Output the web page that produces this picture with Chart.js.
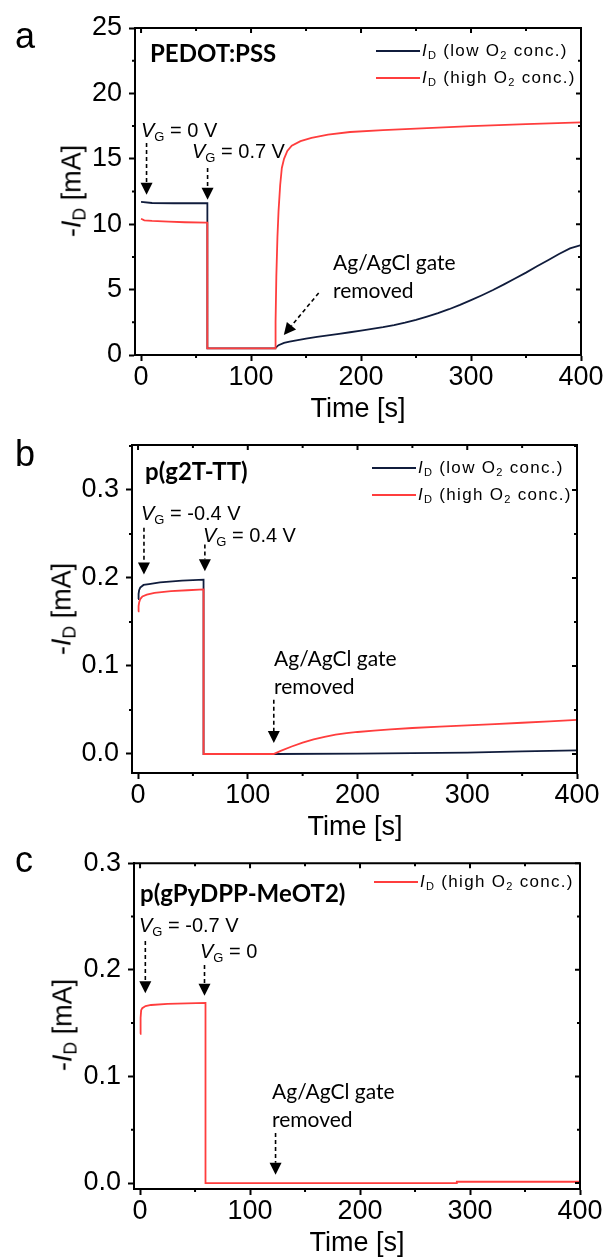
<!DOCTYPE html>
<html>
<head>
<meta charset="utf-8">
<script src="https://cdn.jsdelivr.net/npm/chart.js@4.4.0/dist/chart.umd.min.js"></script>
<style>
    body{margin:0;background:#fff;}
    #lienzo{position:relative;width:605px;height:1257px;overflow:hidden;background:#fff;}
    .panel{position:absolute;left:0;}
    .t{position:absolute;white-space:nowrap;line-height:1;color:#000;}
    .arial{font-family:'Liberation Sans',Arial,sans-serif;}
    .cal{font-family:Lato,'Open Sans',sans-serif;}
    .negrita{font-weight:bold;}
    .ley{letter-spacing:1.3px;}
    sub{font-size:0.65em;vertical-align:-0.28em;line-height:0;}
    .linea{position:absolute;height:2px;}
</style>
</head>
<body>
<div id="lienzo">
    <div class="panel" style="top:0px"><canvas id="graficoA" width="605" height="420"></canvas></div>
    <div class="panel" style="top:420px"><canvas id="graficoB" width="605" height="420"></canvas></div>
    <div class="panel" style="top:840px"><canvas id="graficoC" width="605" height="417"></canvas></div>
</div>
<script>
// ---- datos ----
const xTicks = [0, 100, 200, 300, 400];
const aYTicks = [0, 5, 10, 15, 20, 25];
const bYTicks = [0.0, 0.1, 0.2, 0.3];
const cYTicks = [0.0, 0.1, 0.2, 0.3];

// panel a: PEDOT:PSS, -ID [mA]
const aLowX  = [0, 10, 30, 59.5, 60.3, 60.3, 90, 121.8, 122, 125, 130, 135, 140, 150, 160, 170, 180, 190, 200, 210, 220, 230, 240, 250, 260, 270, 280, 290, 300, 310, 320, 330, 340, 350, 360, 370, 380, 390, 400];
const aLowY  = [11.7, 11.62, 11.6, 11.6, 11.6, 0.5, 0.5, 0.5, 0.52, 0.75, 0.92, 1.02, 1.1, 1.25, 1.38, 1.5, 1.62, 1.74, 1.86, 1.99, 2.13, 2.29, 2.47, 2.68, 2.93, 3.2, 3.5, 3.83, 4.19, 4.57, 4.97, 5.4, 5.85, 6.3, 6.78, 7.25, 7.72, 8.15, 8.4];
const aHighX = [0, 3, 10, 25, 40, 59.5, 60.3, 60.3, 90, 121.8, 122.3, 123, 124, 125, 126.5, 128, 130, 133, 137, 145, 155, 170, 190, 220, 260, 300, 350, 400];
const aHighY = [10.42, 10.3, 10.25, 10.2, 10.15, 10.12, 10.12, 0.5, 0.5, 0.5, 2.5, 6, 9, 11, 13, 14.3, 15.0, 15.6, 16.0, 16.35, 16.6, 16.85, 17.05, 17.2, 17.35, 17.5, 17.65, 17.78];

// panel b: p(g2T-TT)
const bLowX  = [0, 0.5, 1, 2, 5, 10, 20, 40, 59.7, 59.7, 125, 200, 250, 300, 350, 400];
const bLowY  = [0.176, 0.182, 0.186, 0.189, 0.192, 0.193, 0.195, 0.197, 0.198, 0, 0, 0.0005, 0.001, 0.0015, 0.003, 0.004];
const bHighX = [0, 0.5, 1, 2, 4, 8, 15, 30, 45, 59.7, 59.7, 123.5, 130, 140, 150, 160, 170, 180, 190, 200, 215, 230, 250, 275, 300, 325, 350, 375, 400];
const bHighY = [0.162, 0.168, 0.172, 0.176, 0.179, 0.181, 0.183, 0.185, 0.186, 0.187, 0, 0, 0.0035, 0.0085, 0.013, 0.0165, 0.0195, 0.022, 0.0237, 0.025, 0.0265, 0.028, 0.0295, 0.031, 0.0325, 0.034, 0.0355, 0.037, 0.0388];

// panel c: p(gPyDPP-MeOT2)
const cHighX = [0, 0.5, 1, 2, 5, 10, 25, 59.5, 59.5, 288, 288, 400];
const cHighY = [0.14, 0.155, 0.162, 0.164, 0.166, 0.167, 0.168, 0.169, 0, 0, 0.0012, 0.0012];

const colorLow = '#101c3c';
const colorHigh = '#ff3d3d';

/*
    Plugin: marco
    Funcion: borde superior/derecho, ticks menores y espejados, flechas punteadas
*/
const marco = {
    id: 'marco',
    afterDraw(chart, args, opts) {
        let ctx = chart.ctx;
        let {left, right, top, bottom} = chart.chartArea;
        let x = chart.scales.x, y = chart.scales.y;
        ctx.save();
        ctx.strokeStyle = '#000';
        ctx.lineWidth = 2;
        ctx.beginPath();
        ctx.moveTo(left - 1, top);
        ctx.lineTo(right, top);
        ctx.lineTo(right, bottom + 1);
        ctx.stroke();

        ctx.beginPath();
        xTicks.forEach(v => {
            let px = x.getPixelForValue(v);
            ctx.moveTo(px, top); ctx.lineTo(px, top + 5);
            if (v + 50 <= 400) {
                let pm = x.getPixelForValue(v + 50);
                ctx.moveTo(pm, top); ctx.lineTo(pm, top + 3);
                ctx.moveTo(pm, bottom); ctx.lineTo(pm, bottom + 3);
            }
        });
        opts.yTicks.forEach(v => {
            let py = y.getPixelForValue(v);
            ctx.moveTo(right, py); ctx.lineTo(right - 5, py);
            let vm = v + opts.yMinor;
            if (vm < y.max) {
                let pm = y.getPixelForValue(vm);
                ctx.moveTo(right, pm); ctx.lineTo(right - 3, pm);
                ctx.moveTo(left, pm); ctx.lineTo(left - 3, pm);
            }
        });
        ctx.stroke();

        // flechas
        opts.flechas.forEach(f => {
            let x1 = x.getPixelForValue(f.x1), y1 = y.getPixelForValue(f.y1);
            let x2 = x.getPixelForValue(f.x2), y2 = y.getPixelForValue(f.y2);
            let ang = Math.atan2(y2 - y1, x2 - x1);
            let largo = 12, ancho = 6;
            let bx = x2 - largo * Math.cos(ang), by = y2 - largo * Math.sin(ang);
            ctx.lineWidth = 1.6;
            ctx.setLineDash([4, 3]);
            ctx.beginPath();
            ctx.moveTo(x1, y1);
            ctx.lineTo(bx, by);
            ctx.stroke();
            ctx.setLineDash([]);
            ctx.fillStyle = '#000';
            ctx.beginPath();
            ctx.moveTo(x2, y2);
            ctx.lineTo(bx + ancho * Math.sin(ang), by - ancho * Math.cos(ang));
            ctx.lineTo(bx - ancho * Math.sin(ang), by + ancho * Math.cos(ang));
            ctx.closePath();
            ctx.fill();
        });
        ctx.restore();
    }
};

/*
    Funcion: crear un panel con sus series y ejes
*/
function crearPanel(idCanvas, series, yMin, yMax, yTicks, yDec, yMinor, area, flechas) {
    let canvas = document.getElementById(idCanvas);
    let ejeComun = {
        grid: {drawOnChartArea: false, color: '#000', tickColor: '#000', tickLength: 6, tickWidth: 2},
        border: {color: '#000', width: 2}
    };
    return new Chart(canvas, {
        type: 'line',
        data: {
            datasets: series.map(s => ({
                data: s.x.map((v, i) => ({x: v, y: s.y[i]})),
                borderColor: s.color,
                borderWidth: 1.8,
                pointRadius: 0,
                tension: 0,
                fill: false
            }))
        },
        options: {
            responsive: false,
            animation: false,
            events: [],
            layout: {padding: {left: 0, top: area.top, right: area.right, bottom: 0}},
            plugins: {
                legend: {display: false},
                tooltip: {enabled: false},
                marco: {flechas: flechas, yTicks: yTicks, yMinor: yMinor}
            },
            scales: {
                x: Object.assign({}, ejeComun, {
                    type: 'linear', min: -5.5, max: 400,
                    afterBuildTicks: s => { s.ticks = xTicks.map(v => ({value: v})); },
                    afterFit: s => { s.height = area.xh; },
                    ticks: {font: {size: 27, family: "'Liberation Sans', Arial, sans-serif"}, color: '#000', padding: 0, maxRotation: 0, autoSkip: false}
                }),
                y: Object.assign({}, ejeComun, {
                    type: 'linear', min: yMin, max: yMax,
                    afterBuildTicks: s => { s.ticks = yTicks.map(v => ({value: v})); },
                    afterFit: s => { s.width = area.left; },
                    ticks: {font: {size: 27, family: "'Liberation Sans', Arial, sans-serif"}, color: '#000', padding: 7, autoSkip: false,
                        callback: v => v.toFixed(yDec)}
                })
            }
        },
        plugins: [marco]
    });
}

crearPanel('graficoA', [
    {x: aHighX, y: aHighY, color: colorHigh},
    {x: aLowX, y: aLowY, color: colorLow}
], 0, 25, aYTicks, 0, 2.5, {left: 135, top: 28, right: 24, xh: 65}, [
    {x1: 5, y1: 16.2, x2: 5, y2: 12.25},
    {x1: 60.5, y1: 14.3, x2: 60.5, y2: 11.86},
    {x1: 161.5, y1: 4.74, x2: 129.8, y2: 1.53}
]);

crearPanel('graficoB', [
    {x: bHighX, y: bHighY, color: colorHigh},
    {x: bLowX, y: bLowY, color: colorLow}
], -0.0216, 0.351, bYTicks, 1, 0.05, {left: 132, top: 25, right: 28, xh: 67}, [
    {x1: 5.4, y1: 0.257, x2: 5.4, y2: 0.204},
    {x1: 60.9, y1: 0.238, x2: 60.9, y2: 0.2075},
    {x1: 123.7, y1: 0.0617, x2: 123.7, y2: 0.0125}
]);

crearPanel('graficoC', [
    {x: cHighX, y: cHighY, color: colorHigh}
], -0.0056, 0.3, cYTicks, 1, 0.05, {left: 134, top: 22, right: 25, xh: 68}, [
    {x1: 4.8, y1: 0.227, x2: 4.8, y2: 0.178},
    {x1: 58.6, y1: 0.2046, x2: 58.6, y2: 0.1757},
    {x1: 123.2, y1: 0.047, x2: 123.2, y2: 0.0077}
]);

// ---- textos (html encima de los canvas) ----
let lienzo = document.getElementById('lienzo');

function ponerTexto(html, x, base, size, clase) {
    let d = document.createElement('div');
    d.className = 't ' + clase;
    d.style.fontSize = size + 'px';
    d.style.left = x + 'px';
    let k = clase.indexOf('cal') >= 0 ? 0.887 : 0.8465;
    d.style.top = (base - k * size) + 'px';
    d.innerHTML = html;
    lienzo.appendChild(d);
    return d;
}

function tituloY(cx, cy) {
    let d = document.createElement('div');
    d.className = 't arial';
    d.style.fontSize = '27px';
    d.style.left = cx + 'px';
    d.style.top = cy + 'px';
    d.style.transform = 'translate(-50%,-50%) rotate(-90deg)';
    d.innerHTML = '-<i>I</i><sub>D</sub> [mA]';
    lienzo.appendChild(d);
}

function tituloX(cx, base) {
    let d = ponerTexto('Time [s]', cx, base, 27, 'arial');
    d.style.transform = 'translateX(-50%)';
}

function leyenda(x, yLinea, base, color, html) {
    let l = document.createElement('div');
    l.className = 'linea';
    l.style.left = x + 'px';
    l.style.top = (yLinea - 1) + 'px';
    l.style.width = '44px';
    l.style.background = color;
    lienzo.appendChild(l);
    ponerTexto(html, x + 46, base, 17, 'arial ley');
}

const txtLow = '<i>I</i><sub>D</sub> (low O<sub>2</sub> conc.)';
const txtHigh = '<i>I</i><sub>D</sub> (high O<sub>2</sub> conc.)';

// panel a
ponerTexto('a', 15, 48, 36, 'arial');
ponerTexto('PEDOT:PSS', 150, 62, 24, 'cal negrita');
leyenda(376, 51, 56, colorLow, txtLow);
leyenda(376, 78, 83, colorHigh, txtHigh);
ponerTexto('<i>V</i><sub>G</sub> = 0 V', 141, 137, 20, 'arial');
ponerTexto('<i>V</i><sub>G</sub> = 0.7 V', 192, 158, 20, 'arial');
ponerTexto('Ag/AgCl gate', 333, 270, 21, 'cal');
ponerTexto('removed', 333, 298, 21, 'cal');
tituloY(72, 191);
tituloX(358, 418);

// panel b
ponerTexto('b', 15, 466, 36, 'arial');
ponerTexto('p(g2T-TT)', 145, 480, 24, 'cal negrita');
leyenda(372, 468, 473, colorLow, txtLow);
leyenda(372, 495, 500, colorHigh, txtHigh);
ponerTexto('<i>V</i><sub>G</sub> = -0.4 V', 141, 520, 20, 'arial');
ponerTexto('<i>V</i><sub>G</sub> = 0.4 V', 203, 542, 20, 'arial');
ponerTexto('Ag/AgCl gate', 274, 666, 21, 'cal');
ponerTexto('removed', 274, 694, 21, 'cal');
tituloY(62, 609);
tituloX(355, 836);

// panel c
ponerTexto('c', 15, 872, 36, 'arial');
ponerTexto('p(gPyDPP-MeOT2)', 140, 902, 24, 'cal negrita');
leyenda(374, 882, 887, colorHigh, txtHigh);
ponerTexto('<i>V</i><sub>G</sub> = -0.7 V', 139, 932, 20, 'arial');
ponerTexto('<i>V</i><sub>G</sub> = 0', 200, 958, 20, 'arial');
ponerTexto('Ag/AgCl gate', 272, 1099, 21, 'cal');
ponerTexto('removed', 272, 1127, 21, 'cal');
tituloY(63, 1025);
tituloX(357, 1252);
</script>
</body>
</html>
